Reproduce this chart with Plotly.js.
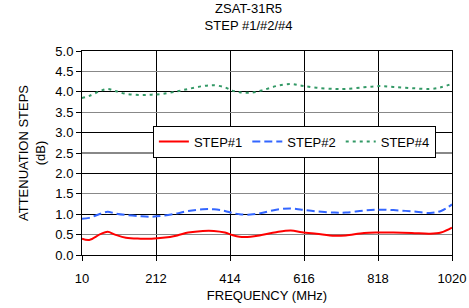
<!DOCTYPE html>
<html><head><meta charset="utf-8">
<script src="https://cdn.plot.ly/plotly-3.0.1.min.js"></script>
<style>html,body{margin:0;padding:0;background:#fff}#c{width:469px;height:308px}</style>
</head><body><div id="c"></div>
<script>
const freq = [10, 30, 60, 80, 100, 130, 170, 200, 230, 270, 300, 340, 370, 400, 420, 440, 470, 500, 540, 580, 610, 650, 700, 730, 780, 820, 860, 910, 960, 990, 1020];
const step1 = [0.40, 0.37, 0.51, 0.57, 0.50, 0.42, 0.40, 0.40, 0.42, 0.48, 0.55, 0.59, 0.59, 0.55, 0.49, 0.45, 0.45, 0.49, 0.56, 0.60, 0.56, 0.52, 0.47, 0.48, 0.54, 0.55, 0.55, 0.54, 0.52, 0.55, 0.67];
const step2 = [0.89, 0.91, 1.01, 1.06, 1.02, 0.98, 0.95, 0.94, 0.96, 1.02, 1.08, 1.12, 1.12, 1.08, 1.03, 1.00, 0.99, 1.03, 1.11, 1.14, 1.11, 1.07, 1.04, 1.04, 1.09, 1.11, 1.10, 1.07, 1.03, 1.08, 1.24];
const step4 = [3.85, 3.90, 4.02, 4.07, 4.02, 3.95, 3.92, 3.93, 3.95, 4.01, 4.07, 4.14, 4.16, 4.11, 4.03, 3.99, 3.98, 4.03, 4.14, 4.19, 4.15, 4.10, 4.07, 4.07, 4.11, 4.14, 4.12, 4.09, 4.07, 4.11, 4.20];
const names = ['STEP#1', 'STEP#2', 'STEP#4'];
const xTicks = [10, 212, 414, 616, 818, 1020];

const font = {family: 'Liberation Sans, Arial, sans-serif', size: 12, color: '#000'};
const traces = [
  {x: freq, y: step1, name: names[0], mode: 'lines', line: {color: '#ff0000', width: 2, shape: 'spline'}},
  {x: freq, y: step2, name: names[1], mode: 'lines', line: {color: '#3366ff', width: 2, dash: '8px,4px', shape: 'spline'}},
  {x: freq, y: step4, name: names[2], mode: 'lines', line: {color: '#339966', width: 2, dash: '3px,4px', shape: 'spline'}},
  {x: [10], y: [0], yaxis: 'y2', showlegend: false, hoverinfo: 'skip', mode: 'markers', marker: {opacity: 0}}
];
const layout = {
  width: 469, height: 308,
  margin: {l: 82, r: 17, t: 51, b: 53},
  paper_bgcolor: '#fff', plot_bgcolor: '#fff',
  font: font,
  showlegend: true,
  title: {text: 'ZSAT-31R5<br>STEP #1/#2/#4', x: 0.53, xanchor: 'center', y: 0.958, yanchor: 'top', font: {family: font.family, size: 13, color: '#000'}},
  xaxis: {
    range: [10, 1020], tickvals: xTicks, ticktext: xTicks.map(String),
    showgrid: true, gridcolor: '#000', gridwidth: 1,
    showline: true, linecolor: '#000', mirror: true, linewidth: 1,
    ticks: 'outside', ticklen: 5, tickcolor: '#000', zeroline: false,
    ticklabelstandoff: 6,
    tickfont: {family: font.family, size: 13, color: '#000'},
    title: {text: 'FREQUENCY (MHz)', font: {family: font.family, size: 13, color: '#000'}, standoff: 6}
  },
  yaxis: {
    range: [0, 5], dtick: 0.5, tick0: 0, tickformat: '.1f',
    showgrid: true, gridcolor: '#888', gridwidth: 1.3,
    showline: true, linecolor: '#000', mirror: true, linewidth: 1,
    ticks: 'outside', ticklen: 5, tickcolor: '#000', zeroline: false,
    tickfont: {family: font.family, size: 13, color: '#000'},
    title: {text: 'ATTENUATION STEPS<br>(dB)', font: {family: font.family, size: 13, color: '#000'}, standoff: 6}
  },
  yaxis2: {
    overlaying: 'y', range: [0, 5], dtick: 1, tick0: 0,
    showgrid: true, gridcolor: '#000', gridwidth: 1,
    showticklabels: false, zeroline: false, showline: false, ticks: ''
  },
  legend: {
    orientation: 'h', x: 0.574, xanchor: 'center', y: 0.556, yanchor: 'middle',
    bgcolor: '#fff', bordercolor: '#000', borderwidth: 1,
    font: {family: font.family, size: 13, color: '#000'}
  }
};
Plotly.newPlot('c', traces, layout, {staticPlot: true, displayModeBar: false});
</script></body></html>
